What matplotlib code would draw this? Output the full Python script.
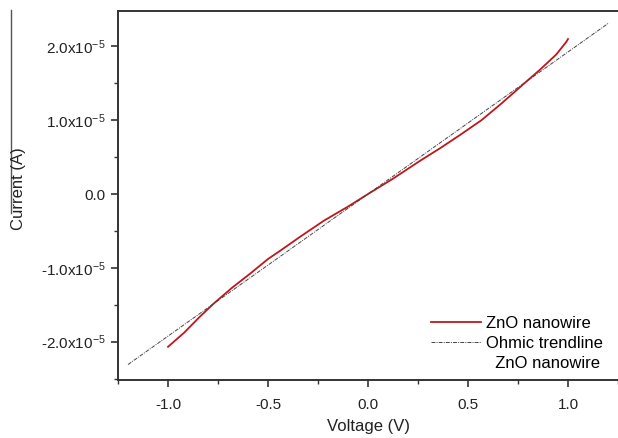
import matplotlib
matplotlib.use("Agg")
from matplotlib import pyplot as plt
from matplotlib.lines import Line2D
from matplotlib.ticker import MultipleLocator, FuncFormatter

plt.rcParams['font.family'] = ['Liberation Sans', 'DejaVu Sans']
plt.rcParams['mathtext.default'] = 'regular'

# measured I-V curve (V, A)
voltage = [-1.0, -0.92, -0.84, -0.77, -0.68, -0.59, -0.5, -0.44, -0.34, -0.22, -0.1,
           0.0, 0.06, 0.126, 0.26, 0.36, 0.46, 0.567, 0.66, 0.74, 0.79, 0.858, 0.941,
           0.991, 1.0]
current = [-2.07e-5, -1.88e-5, -1.66e-5, -1.48e-5, -1.27e-5, -1.08e-5, -0.88e-5, -0.77e-5,
           -0.58e-5, -0.36e-5, -0.17e-5, 0.0, 0.1e-5, 0.21e-5, 0.45e-5, 0.62e-5, 0.8e-5,
           1.0e-5, 1.21e-5, 1.4e-5, 1.52e-5, 1.68e-5, 1.89e-5, 2.06e-5, 2.1e-5]

# ohmic trendline end points
trend_v = [-1.2, 1.2]
trend_i = [-2.31e-5, 2.31e-5]

fig = plt.figure(figsize=(6.18, 4.38), dpi=100)
ax = fig.add_axes([0.191, 0.1324, 0.809, 0.8425])

ax.plot(voltage, current, color='#c0161b', lw=1.3, label='ZnO nanowire')
ax.plot(trend_v, trend_i, color='#444444', lw=0.7, linestyle=(0, (4, 1.2, 1, 1.2)),
        label='Ohmic trendline')

ax.set_xlim(-1.25, 1.25)
ax.set_ylim(-2.52e-5, 2.48e-5)

ax.xaxis.set_major_locator(MultipleLocator(0.5))
ax.xaxis.set_minor_locator(MultipleLocator(0.25))
ax.yaxis.set_major_locator(MultipleLocator(1e-5))
ax.yaxis.set_minor_locator(MultipleLocator(0.5e-5))

def yfmt(v, pos):
    n = round(v / 1e-5, 1)
    if abs(n) < 1e-9:
        return '0.0'
    return '%.1fx10$^{-5}$' % n

ax.yaxis.set_major_formatter(FuncFormatter(yfmt))
ax.xaxis.set_major_formatter(FuncFormatter(lambda v, p: '%.1f' % v))

ax.tick_params(which='major', direction='out', length=5, width=1.2, colors='#333333',
               labelcolor='#222222', labelsize=11, pad=4)
ax.tick_params(axis='x', which='major', pad=8)
ax.tick_params(which='minor', direction='out', length=3, width=1.0, colors='#333333')
ax.tick_params(top=False, right=False)

for s in ['left', 'bottom', 'top']:
    ax.spines[s].set_color('#333333')
    ax.spines[s].set_linewidth(1.4)
ax.spines['right'].set_visible(False)

ax.set_xlabel('Voltage (V)', fontsize=12, color='#222222', labelpad=5)
fig.text(0.03, 0.57, 'Current (A)', rotation=90, fontsize=12, color='#222222',
         ha='center', va='center')
fig.add_artist(Line2D([0.018, 0.018], [0.977, 0.513], color='#555555', lw=1.0))

h1 = Line2D([], [], color='#c0161b', lw=1.3)
h2 = Line2D([], [], color='#444444', lw=0.7, linestyle=(0, (4, 1.2, 1, 1.2)))
h3 = Line2D([], [], color='none')
ax.legend([h1, h2, h3], ['ZnO nanowire', 'Ohmic trendline', '  ZnO nanowire'],
          loc='lower right', bbox_to_anchor=(1.0, -0.015), frameon=False, fontsize=12,
          handlelength=3.0, handletextpad=0.3, labelspacing=0.3)

fig.savefig('out.png', dpi=100)
